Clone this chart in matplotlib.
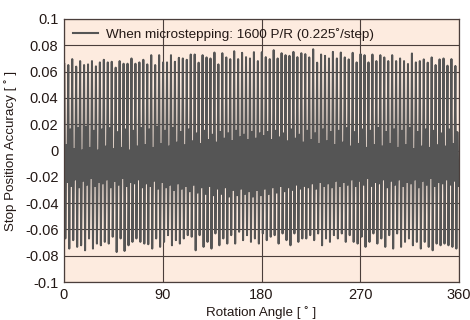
import numpy as np
import matplotlib
matplotlib.use("Agg")
import matplotlib.pyplot as plt

# ---- data (one entry per 3.6 deg spike period) ----
top_peaks = [
    0.0658, 0.0650, 0.0695, 0.0638, 0.0680, 0.0650, 0.0655, 0.0680, 0.0640, 0.0670,
    0.0690, 0.0670, 0.0675, 0.0630, 0.0680, 0.0660, 0.0660, 0.0700, 0.0660, 0.0670,
    0.0690, 0.0655, 0.0725, 0.0650, 0.0725, 0.0670, 0.0670, 0.0725, 0.0675, 0.0705,
    0.0700, 0.0690, 0.0730, 0.0730, 0.0668, 0.0725, 0.0708, 0.0700, 0.0745, 0.0655,
    0.0740, 0.0708, 0.0695, 0.0755, 0.0695, 0.0743, 0.0710, 0.0700, 0.0748, 0.0680,
    0.0748, 0.0710, 0.0695, 0.0763, 0.0700, 0.0740, 0.0725, 0.0720, 0.0750, 0.0710,
    0.0740, 0.0733, 0.0708, 0.0770, 0.0668, 0.0730, 0.0720, 0.0700, 0.0750, 0.0700,
    0.0745, 0.0708, 0.0693, 0.0743, 0.0670, 0.0733, 0.0725, 0.0670, 0.0730, 0.0680,
    0.0725, 0.0708, 0.0680, 0.0725, 0.0680, 0.0700, 0.0680, 0.0658, 0.0738, 0.0670,
    0.0680, 0.0693, 0.0668, 0.0708, 0.0650, 0.0693, 0.0700, 0.0645, 0.0695, 0.0643,
]
bottom_troughs = [
    -0.0669, -0.0746, -0.0682, -0.0733, -0.0721, -0.0759, -0.0669, -0.0746, -0.0708, -0.0721,
    -0.0695, -0.0708, -0.0656, -0.0772, -0.0669, -0.0764, -0.0721, -0.0695, -0.0669, -0.0695,
    -0.0708, -0.0713, -0.0746, -0.0669, -0.0733, -0.0695, -0.0644, -0.0721, -0.0682, -0.0708,
    -0.0669, -0.0644, -0.0656, -0.0759, -0.0644, -0.0733, -0.0695, -0.0746, -0.0631, -0.0721,
    -0.0669, -0.0708, -0.0644, -0.0708, -0.0618, -0.0682, -0.0644, -0.0695, -0.0669, -0.0708,
    -0.0631, -0.0682, -0.0656, -0.0644, -0.0708, -0.0631, -0.0682, -0.0721, -0.0631, -0.0695,
    -0.0669, -0.0669, -0.0644, -0.0682, -0.0631, -0.0721, -0.0669, -0.0695, -0.0644, -0.0669,
    -0.0631, -0.0695, -0.0644, -0.0695, -0.0708, -0.0656, -0.0733, -0.0695, -0.0631, -0.0708,
    -0.0669, -0.0733, -0.0644, -0.0746, -0.0631, -0.0733, -0.0695, -0.0669, -0.0721, -0.0695,
    -0.0746, -0.0695, -0.0733, -0.0759, -0.0708, -0.0721, -0.0708, -0.0721, -0.0733, -0.0746,
]
upper_gap_floor = [
    0.004, 0.016, 0.001, 0.017, 0.000, 0.018, 0.002, 0.015, 0.000, 0.016,
    0.003, 0.017, 0.001, 0.014, 0.002, 0.016, 0.000, 0.015, 0.003, 0.017,
    0.004, 0.016, 0.002, 0.018, 0.005, 0.015, 0.003, 0.017, 0.006, 0.014,
    0.004, 0.016, 0.007, 0.013, 0.005, 0.015, 0.008, 0.012, 0.006, 0.014,
    0.009, 0.013, 0.007, 0.015, 0.010, 0.012, 0.008, 0.014, 0.009, 0.013,
    0.011, 0.014, 0.008, 0.015, 0.010, 0.013, 0.007, 0.016, 0.009, 0.012,
    0.006, 0.015, 0.008, 0.013, 0.005, 0.016, 0.007, 0.014, 0.004, 0.015,
    0.006, 0.017, 0.003, 0.014, 0.005, 0.016, 0.002, 0.015, 0.004, 0.017,
    0.003, 0.014, 0.005, 0.016, 0.002, 0.015, 0.004, 0.017, 0.001, 0.014,
    0.003, 0.016, 0.002, 0.015, 0.004, 0.013, 0.003, 0.016, 0.005, 0.014,
]
lower_gap_ceiling = [
    -0.024, -0.027, -0.022, -0.028, -0.023, -0.026, -0.021, -0.027, -0.024, -0.025,
    -0.022, -0.028, -0.023, -0.026, -0.021, -0.027, -0.024, -0.025, -0.022, -0.028,
    -0.025, -0.027, -0.023, -0.029, -0.024, -0.028, -0.026, -0.030, -0.025, -0.029,
    -0.027, -0.031, -0.026, -0.032, -0.028, -0.033, -0.027, -0.034, -0.029, -0.033,
    -0.028, -0.035, -0.030, -0.034, -0.029, -0.033, -0.031, -0.035, -0.030, -0.034,
    -0.029, -0.033, -0.028, -0.032, -0.027, -0.031, -0.028, -0.030, -0.026, -0.029,
    -0.027, -0.028, -0.025, -0.029, -0.024, -0.027, -0.025, -0.028, -0.023, -0.027,
    -0.024, -0.026, -0.022, -0.027, -0.023, -0.026, -0.021, -0.027, -0.024, -0.025,
    -0.022, -0.028, -0.023, -0.026, -0.022, -0.027, -0.024, -0.025, -0.022, -0.028,
    -0.023, -0.026, -0.021, -0.027, -0.024, -0.025, -0.022, -0.026, -0.023, -0.027,
]
x_ticks = [0, 90, 180, 270, 360]
y_ticks = [0.1, 0.08, 0.06, 0.04, 0.02, 0, -0.02, -0.04, -0.06, -0.08, -0.1]
y_tick_labels = ["0.1", "0.08", "0.06", "0.04", "0.02", "0",
                 "-0.02", "-0.04", "-0.06", "-0.08", "-0.1"]
legend_label = "When microstepping: 1600 P/R (0.225˚/step)"

# ---- build the trace: peak -> trough -> upper floor -> lower ceiling per period ----
n = len(top_peaks)
period = 360.0 / n
xs, ys = [], []
for i in range(n):
    b = i * period + 0.3
    seq = [top_peaks[i], bottom_troughs[i], upper_gap_floor[i], lower_gap_ceiling[i]]
    for k, v in enumerate(seq):
        xs.append(b + k * period / 4)
        ys.append(v)

plt.rcParams['font.family'] = ['Liberation Sans Narrow', 'Liberation Sans', 'DejaVu Sans']

fig = plt.figure(figsize=(4.7, 3.2), dpi=100)
ax = fig.add_axes([64/470, 1-282/320, (459-64)/470, (282-19)/320])
ax.set_facecolor('#fdebdf')

line_col = '#555555'
grid_col = '#4a3e3b'
ax.plot(xs, ys, color=line_col, lw=1.45, zorder=2, label=legend_label)

ax.set_xlim(0, 360)
ax.set_ylim(-0.1, 0.1)
ax.set_xticks(x_ticks)
ax.set_yticks(y_ticks)
ax.set_yticklabels(y_tick_labels)
ax.tick_params(length=0, labelsize=10.5, colors='#231815', pad=4)
ax.grid(True, color=grid_col, lw=0.8, zorder=1)
ax.set_axisbelow(True)
for s in ax.spines.values():
    s.set_color(grid_col)
    s.set_linewidth(0.9)
    s.set_zorder(4)

ax.set_xlabel("Rotation Angle [ ˚ ]", fontsize=9.6, color='#231815', labelpad=3)
ax.set_ylabel("Stop Position Accuracy [ ˚ ]", fontsize=9.6, color='#231815', labelpad=6)

leg = ax.legend(loc='upper left', frameon=False, fontsize=9.7, handlelength=1.9,
                borderaxespad=0.25, handletextpad=0.55, labelcolor='#231815')
for h in leg.legend_handles:
    h.set_linewidth(1.5)

fig.savefig("out.png", dpi=100)
